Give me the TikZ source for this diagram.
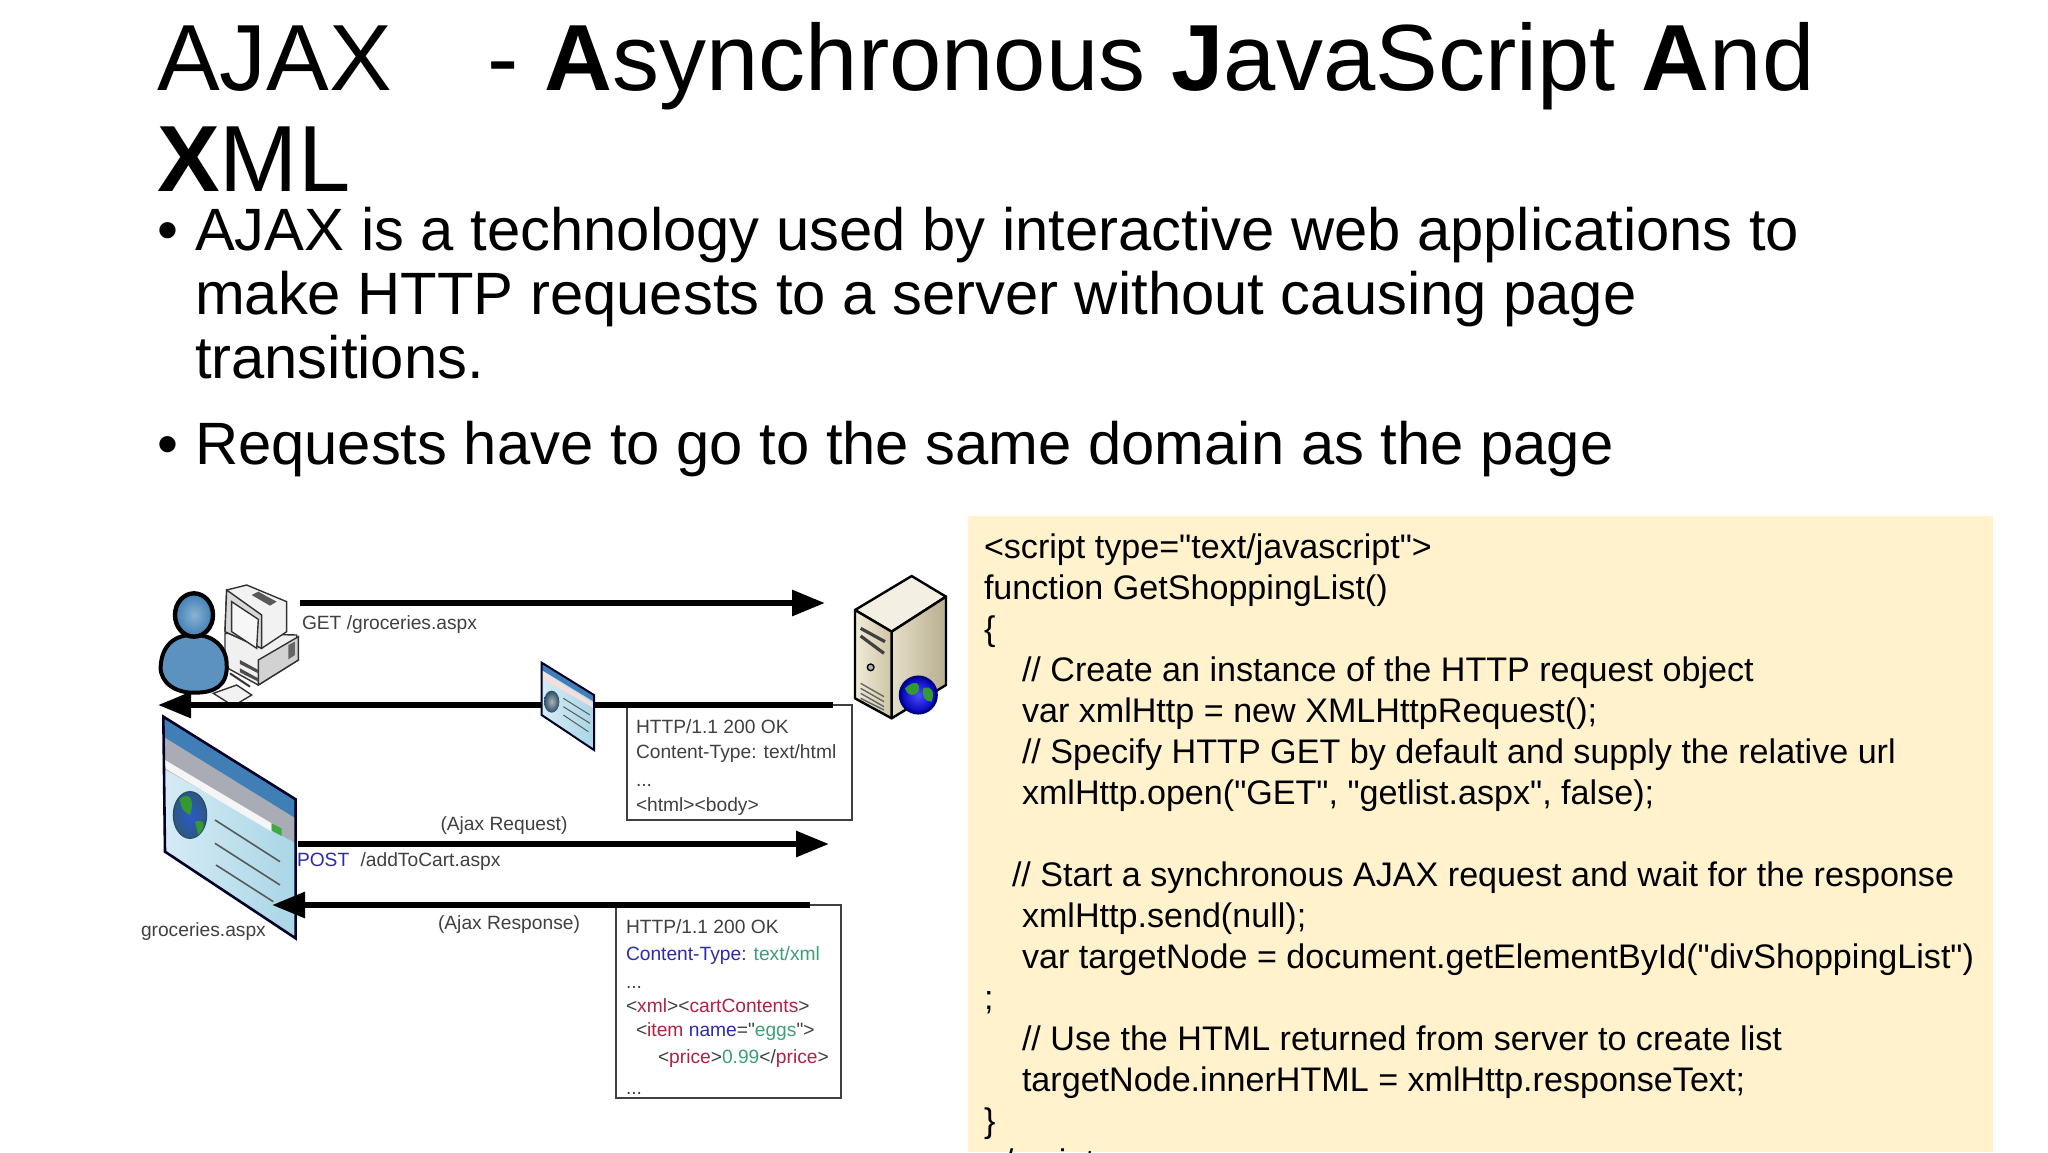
\documentclass[tikz,border=0pt]{standalone}
\usepackage{fontspec}
\setmainfont[Ligatures=TeXOff]{Liberation Sans}
\usetikzlibrary{arrows.meta,shadings}
\definecolor{codebg}{HTML}{FFF2CC}
\definecolor{lbl}{HTML}{404040}
\definecolor{kblue}{HTML}{2C2CA8}
\definecolor{kgreen}{HTML}{3E9E78}
\definecolor{kred}{HTML}{B02244}
\definecolor{wblue}{HTML}{3F7FB5}
\definecolor{wgrey}{HTML}{A9ACB4}
\definecolor{wpale}{HTML}{D6EBF5}
\definecolor{wpale2}{HTML}{A9D6E6}
\definecolor{srvtop}{HTML}{F3EFE2}
\definecolor{srva}{HTML}{F0EAD8}
\definecolor{srvb}{HTML}{CFC5A6}
\definecolor{srvc}{HTML}{E6DFC8}
\definecolor{srvd}{HTML}{B8AE90}
\newcommand{\titlefont}{\fontsize{47}{50}\selectfont}
\newcommand{\bodyfont}{\fontsize{29.88}{32}\selectfont}
\newcommand{\codefont}{\fontsize{17.05}{19}\selectfont}
\newcommand{\smallfont}{\fontsize{9.6}{12}\selectfont}
\tikzset{
  txt/.style={inner sep=0pt,outer sep=0pt,anchor=base west,font=\bodyfont,text=black},
  ttl/.style={txt,font=\titlefont},
  code/.style={txt,font=\codefont},
  dlab/.style={inner sep=0pt,outer sep=0pt,anchor=west,font=\smallfont,text=lbl},
  msgbox/.style={draw=lbl,line width=1pt,fill=white,inner sep=0pt,outer sep=0pt,anchor=north west},
  msg/.style={line width=3pt,-{Triangle[length=16.5pt,width=12.5pt]},black},
}
\begin{document}
\begin{tikzpicture}[x=0.5pt,y=-0.5pt]
\clip (0,0) rectangle (2048,1152);
\fill[white] (0,0) rectangle (2048,1152);
% Title
\node[ttl] (t1) at (157,90) {AJAX\hspace{47.6pt}- \textbf{A}synchronous \textbf{J}avaScript \textbf{A}nd};
\node[ttl] (t2) at (157,191) {\textbf{X}ML};
% Bullets
\node[txt] (b1) at (157,250.7) {•};
\node[txt] (l1) at (195,250.7) {AJAX is a technology used by interactive web applications to};
\node[txt] (l2) at (195,314.7) {make HTTP requests to a server without causing page};
\node[txt] (l3) at (195,378.7) {transitions.};
\node[txt] (b2) at (157,464.7) {•};
\node[txt] (l4) at (195,464.7) {Requests have to go to the same domain as the page};
% Code panel
\fill[codebg] (968,516) rectangle (1993,1152);
\node[code] (c0) at (984,558) {<script type="text/javascript">};
\node[code] (c1) at (984,599) {function GetShoppingList()};
\node[code] (c2) at (984,640) {\{};
\node[code] (c3) at (1022,681) {// Create an instance of the HTTP request object};
\node[code] (c4) at (1022,722) {var xmlHttp = new XMLHttpRequest();};
\node[code] (c5) at (1022,763) {// Specify HTTP GET by default and supply the relative url};
\node[code] (c6) at (1022,804) {xmlHttp.open("GET", "getlist.aspx", false);};
\node[code] (c8) at (1012,886) {// Start a synchronous AJAX request and wait for the response};
\node[code] (c9) at (1022,927) {xmlHttp.send(null);};
\node[code] (c10) at (1022,968) {var targetNode = document.getElementById("divShoppingList")};
\node[code] (c11) at (984,1009) {;};
\node[code] (c12) at (1022,1050) {// Use the HTML returned from server to create list};
\node[code] (c13) at (1022,1091) {targetNode.innerHTML = xmlHttp.responseText;};
\node[code] (c14) at (984,1132) {\}};
\node[code] (c15) at (984,1173) {</script>};
% Message boxes
\node[msgbox,minimum width=112.5pt,minimum height=57.5pt] (box1) at (627,705) {};
\node[msgbox,minimum width=112.5pt,minimum height=96.5pt] (box2) at (616,905) {};
\node[dlab] (h1) at (636,727) {HTTP/1.1 200 OK};
\node[dlab] (h2) at (636,754) {Content-Type: text/html};
\node[dlab] (h3) at (636,785) {...};
\node[dlab] (h4) at (636,807) {<html><body>};
\node[dlab] (x1) at (626,927) {HTTP/1.1 200 OK};
\node[dlab] (x2) at (626,956) {\textcolor{kblue}{Content-Type:} \textcolor{kgreen}{text/xml}};
\node[dlab] (x3) at (626,987) {...};
\node[dlab] (x4) at (626,1006) {<\textcolor{kred}{xml}><\textcolor{kred}{cartContents}>};
\node[dlab] (x5) at (636,1032) {<\textcolor{kred}{item} \textcolor{kblue}{name}="\textcolor{kgreen}{eggs}">};
\node[dlab] (x6) at (658,1059) {<\textcolor{kred}{price}>\textcolor{kgreen}{0.99}</\textcolor{kred}{price}>};
\node[dlab] (x7) at (626,1093) {...};
% Labels
\node[dlab] (get) at (302,625) {GET /groceries.aspx};
\node[dlab,anchor=center] (areq) at (504,826) {(Ajax Request)};
\node[dlab] (post) at (297,862) {\textcolor{kblue}{POST}\hspace{3pt} /addToCart.aspx};
\node[dlab,anchor=center] (ares) at (509,925) {(Ajax Response)};
\node[dlab] (gro) at (141,932) {groceries.aspx};
% Connector ends
\coordinate (a1s) at (300,603); \coordinate (a1e) at (825,603);
\coordinate (a2s) at (833,705); \coordinate (a2e) at (158,705);
\coordinate (a3s) at (298,844); \coordinate (a3e) at (829,844);
\coordinate (a4s) at (810,905); \coordinate (a4e) at (272,905);
% Large browser page
\begin{scope}[shift={(130,560)},x=1/6*1pt,y=-1/6*1pt]
  \shade[left color=wpale,right color=wpale2] (100,470) -- (497,718) -- (497,1135) -- (105,875) -- cycle;
  \fill[wgrey] (100,530) -- (497,775) -- (497,850) -- (100,625) -- cycle;
  \fill[wblue] (100,470) -- (497,718) -- (497,775) -- (100,530) -- cycle;
  \fill[white!92!gray] (105,600) -- (425,790) -- (425,815) -- (105,625) -- cycle;
  \fill[green!55!black!75] (425,790) -- (455,805) -- (455,828) -- (425,812) -- cycle;
  \shade[inner color=blue!30!wblue,outer color=wblue!70!black,draw=wblue!60!black,line width=.6pt] (180,765) ellipse (50 and 70);
  \fill[green!50!black!80] (150,715) .. controls (180,695) and (195,720) .. (180,765) .. controls (165,760) and (150,745) .. (150,715) -- cycle;
  \fill[green!50!black!80] (195,785) .. controls (225,775) and (230,800) .. (205,825) -- cycle;
  \draw[gray!70!black,line width=.8pt] (255,780) -- (450,905) (255,850) -- (450,975) (258,915) -- (430,1025);
  \draw[black!85!blue,line width=1.3pt] (100,470) -- (497,718) -- (497,1135) -- (105,875) -- cycle;
\end{scope}
% PC
\begin{scope}[shift={(130,560)},x=1/6*1pt,y=-1/6*1pt,line width=.7pt,draw=black!80]
  \filldraw[fill=gray!12] (285,220) -- (500,225) -- (505,300) -- (385,375) -- (285,320) -- cycle;
  \filldraw[fill=gray!35] (385,300) -- (505,230) -- (505,300) -- (385,375) -- cycle;
  \filldraw[fill=gray!10] (290,90) -- (350,75) -- (470,125) -- (470,215) -- (395,265) -- (285,215) -- cycle;
  \filldraw[fill=gray!30] (290,90) -- (395,165) -- (395,265) -- (285,215) -- cycle;
  \filldraw[fill=gray!6] (305,125) -- (385,178) -- (380,265) -- (305,215) -- cycle;
  \fill[gray!70!black] (365,105) -- (385,95) -- (440,125) -- (420,137) -- cycle;
  \fill[gray!80!black] (475,255) -- (495,245) -- (495,285) -- (475,298) -- cycle;
  \fill[black!70] (330,300) -- (385,330) -- (385,340) -- (330,312) -- cycle;
  \fill[black!70] (330,325) -- (385,355) -- (385,365) -- (330,337) -- cycle;
  \draw[line width=1pt,black!80] (300,340) -- (360,380);
  \filldraw[fill=gray!10] (250,400) -- (320,375) -- (365,405) -- (310,438) -- cycle;
\end{scope}
% Person
\begin{scope}[shift={(130,560)},x=1/6*1pt,y=-1/6*1pt]
  \filldraw[draw=black,line width=2pt,fill=wblue!85] (195,225) .. controls (130,222) and (95,260) .. (92,320) .. controls (90,370) and (140,400) .. (195,398) .. controls (250,398) and (295,380) .. (290,310) .. controls (288,260) and (250,225) .. (195,225) -- cycle;
  \shade[draw=black,line width=2.2pt,inner color=wblue!60,outer color=wblue] (192,165) ellipse (57 and 65);
\end{scope}
% Server
\begin{scope}[shift={(530,560)},x=1/6*1pt,y=-1/6*1pt,line width=1.2pt,draw=black,line join=round]
  \filldraw[fill=srvtop] (975,150) -- (1145,48) -- (1248,110) -- (1085,215) -- cycle;
  \shade[left color=srvc,right color=srvd,draw=black] (1085,215) -- (1248,110) -- (1248,375) -- (1085,475) -- cycle;
  \shade[left color=srva,right color=srvb,draw=black] (975,150) -- (1085,215) -- (1085,475) -- (975,415) -- cycle;
  \draw[line width=1.6pt,black!75] (992,205) -- (1065,245) (992,228) -- (1062,280);
  \draw[line width=.7pt,black!60] (992,370) -- (1062,410) (992,385) -- (1062,425) (992,400) -- (1062,440) (992,415) -- (1062,450);
  \filldraw[fill=gray!60,line width=.7pt] (1022,322) circle (10);
  \shade[draw=blue!50!black,line width=1.2pt,inner color=blue!70!white,outer color=blue!70!black] (1165,405) circle (55);
  \fill[green!50!black!80] (1125,385) .. controls (1150,360) and (1175,365) .. (1165,395) .. controls (1150,410) and (1135,410) .. (1125,385) -- cycle;
  \fill[green!50!black!80] (1180,385) .. controls (1205,375) and (1215,395) .. (1205,425) .. controls (1185,425) and (1175,410) .. (1180,385) -- cycle;
\end{scope}
% Connectors
\draw[msg] (a1s) -- (a1e);
\draw[msg] (a2s) -- (a2e);
\draw[msg] (a3s) -- (a3e);
\draw[msg] (a4s) -- (a4e);
% Small page on the response line
\begin{scope}[shift={(530,560)},x=1/6*1pt,y=-1/6*1pt]
  \shade[left color=wpale,right color=wpale2] (35,308) -- (192,405) -- (192,570) -- (35,465) -- cycle;
  \fill[wgrey!50!red!20!white] (35,335) -- (192,430) -- (192,445) -- (35,355) -- cycle;
  \fill[wblue] (35,308) -- (192,405) -- (192,425) -- (35,330) -- cycle;
  \shade[inner color=gray!60,outer color=wblue!60!black] (65,425) ellipse (23 and 33);
  \draw[gray!70!black,line width=.5pt] (100,415) -- (180,465) (100,440) -- (180,490) (100,465) -- (175,515);
  \draw[black!85!blue,line width=1pt] (35,308) -- (192,405) -- (192,570) -- (35,465) -- cycle;
\end{scope}
\end{tikzpicture}
\end{document}
